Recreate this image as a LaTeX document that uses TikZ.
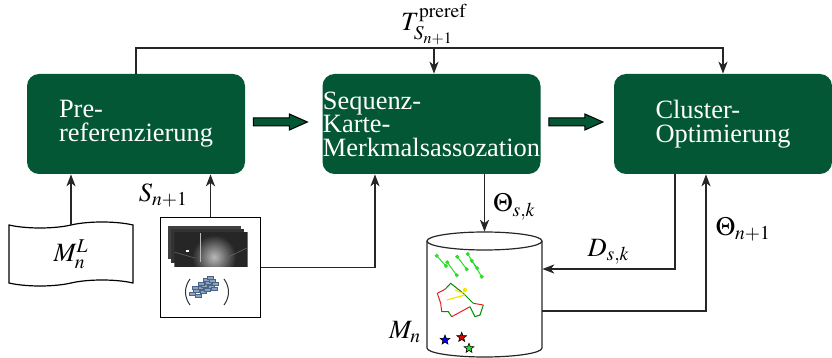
\documentclass[tikz,border=0pt]{standalone}
\usepackage{mathptmx}
\usepackage{fontspec}
\setmainfont{Liberation Serif}
\usetikzlibrary{arrows.meta,shapes.symbols,shapes.geometric}
\definecolor{boxgreen}{RGB}{3,87,52}
\definecolor{cloudblue}{RGB}{70,100,140}
\definecolor{lgreen}{RGB}{40,220,40}
\definecolor{lred}{RGB}{235,30,30}
\definecolor{lyellow}{RGB}{240,230,0}
\begin{document}
\begin{tikzpicture}[x=0.5pt,y=-0.5pt,
    font=\fontsize{13.2}{11.7}\selectfont,
    >={Stealth[length=6pt,width=4.6pt,inset=1.8pt]},
    line/.style={draw=black!85, line width=0.6pt},
    stage/.style={fill=boxgreen, text=white, rounded corners=6pt, minimum width=109pt, minimum height=50pt, align=left, inner sep=0pt},
    fat/.style={draw=black, fill=boxgreen, line width=0.5pt},
    star5/.style={star, star points=5, star point ratio=2.3, draw=black, line width=0.3pt, minimum size=5pt, inner sep=0pt}]
  \useasboundingbox (0,0) rectangle (832,358);
  \node[stage] (pre) at (136,124) {Pre-\\[0.5pt]referenzierung};
  \node[stage] (assoc) at (431.5,124) {Sequenz-\\Karte-\\Merkmalsassozation};
  \node[stage] (opt) at (723,124) {Cluster-\\Optimierung};
  \foreach \a/\b in {pre/assoc,assoc/opt}
    \draw[fat] ([xshift=4pt,yshift=-1pt]\a.east) -- ++(18pt,0) -- ++(0,-2pt) -- ++(9pt,4pt)
      -- ++(-9pt,4pt) -- ++(0,-2pt) -- ++(-18pt,0) -- cycle;
  \node[tape, draw, line width=0.6pt, minimum width=62pt, minimum height=32pt, tape bend height=3pt] (ml) at (71,254) {$M_n^L$};
  \node[draw, line width=0.6pt, minimum size=50pt, inner sep=0pt] (seq) at (210.5,267.5) {};
  \fill[black!75] (168,226) rectangle ++(36.5pt,-16.5pt);
  \fill[black!80] (171.2,229) rectangle ++(36.5pt,-17pt);
  \begin{scope}
    \clip (174.3,231.7) rectangle (247.7,266.7);
    \fill[black!85] (174.3,231.7) rectangle (247.7,266.7);
    \shade[inner color=gray!55, outer color=black!85] (214,257) circle[radius=11pt];
    \draw[gray!55, line width=0.4pt] (200,233) -- (200,262);
    \draw[black!60, line width=0.3pt] (174,252) -- (195,258) (247,248) -- (226,258);
    \fill[white] (186,250) rectangle ++(1.5pt,-1pt);
  \end{scope}
  \draw[black!80, line width=0.5pt] (190,279) .. controls (184,287) and (184,297) .. (190,305);
  \draw[black!80, line width=0.5pt] (224,279) .. controls (230,287) and (230,297) .. (224,305);
  \foreach \p in {(192,294),(196,291),(200,288),(204,286),(208,283),(212,281),(198,296),(203,292),
                  (207,290),(211,287),(215,284),(201,284),(206,280),(195,288),(210,278),(214,289)}
    \filldraw[draw=cloudblue, fill=cloudblue!60, line width=0.3pt] \p ++(-1.6pt,-0.9pt) rectangle ++(3.2pt,1.8pt);
  \node[minimum width=57.5pt, minimum height=62.5pt, inner sep=0pt] (db) at (484.5,294.5) {};
  \draw[line] (427,241) -- (427,348) arc[start angle=180, end angle=360, x radius=28.75pt, y radius=4.5pt] -- (542,241);
  \draw[line] (484.5,241) ellipse[x radius=28.75pt, y radius=4.5pt];
  \foreach \s/\e in {{(436.7,255.7)}/{(446,266)}, {(447.3,262.3)}/{(456.7,275.3)},
                     {(457.3,256.7)}/{(466.7,269.3)}, {(467.7,254)}/{(481.7,276.7)}, {(471.7,260.7)}/{(477.3,268.3)}}
    \draw[lgreen, line width=0.5pt] \s circle[radius=0.7pt] -- \e circle[radius=0.7pt];
  \draw[lred, line width=0.5pt] (445,289.3) -- (437.3,293.3) -- (440.7,303.3) -- (441.7,311.7)
    (451.7,316.7) -- (470,306.7) (473.3,303.3) -- (483.3,305);
  \draw[green!55!black, line width=0.5pt] (445,289.3) -- (450.7,283.3) -- (463.3,293.3) -- (473.3,303.3)
    (441.7,311.7) -- (448.3,311.7) -- (451.7,316.7) (483.3,305) -- (480,315) -- (475,316.7) -- (470,306.7);
  \draw[lyellow, line width=0.6pt] (446.7,300) -- (465,295) (455,290) -- (463.3,293.3);
  \fill[lyellow] (465,290) circle[radius=1.1pt];
  \node[star5, fill=blue] (sb) at (445,340) {};
  \node[star5, fill=red!85!black] (sr) at (461.7,337.3) {};
  \node[star5, fill=lgreen] (sg) at (469,348.3) {};
  \node[anchor=east, inner sep=2.5pt] (mnl) at ([yshift=-19pt]db.west) {$M_n$};
  \coordinate (tsplit) at (434,48);
  \draw[line,->] (pre.north) |- (tsplit) node[anchor=south, inner sep=1.5pt] {$T^{\mathrm{preref}}_{S_{n+1}}$} -| (opt.north);
  \draw[line,->] (tsplit) -- (tsplit |- assoc.north);
  \draw[line,->] (ml.north) -- (ml.north |- pre.south);
  \draw[line,->] (seq.north) -- (seq.north |- pre.south) node[midway, anchor=east, inner sep=3pt, xshift=-8pt] {$S_{n+1}$};
  \draw[line,->] (seq.east) -| ([xshift=-28.25pt]assoc.south);
  \draw[line,->] (assoc.south -| db.north) -- (db.north) node[midway, anchor=west, inner sep=4pt, yshift=-2pt] {$\Theta_{s,k}$};
  \draw[line,->] ([xshift=-24pt]opt.south) |- ([yshift=12.75pt]db.east) node[pos=0.75, anchor=south, inner sep=2pt] {$D_{s,k}$};
  \draw[line,->] ([yshift=-8.25pt]db.east) -| ([xshift=-8.5pt]opt.south) node[pos=0.8, anchor=west, inner sep=4.5pt] {$\Theta_{n+1}$};
\end{tikzpicture}
\end{document}
